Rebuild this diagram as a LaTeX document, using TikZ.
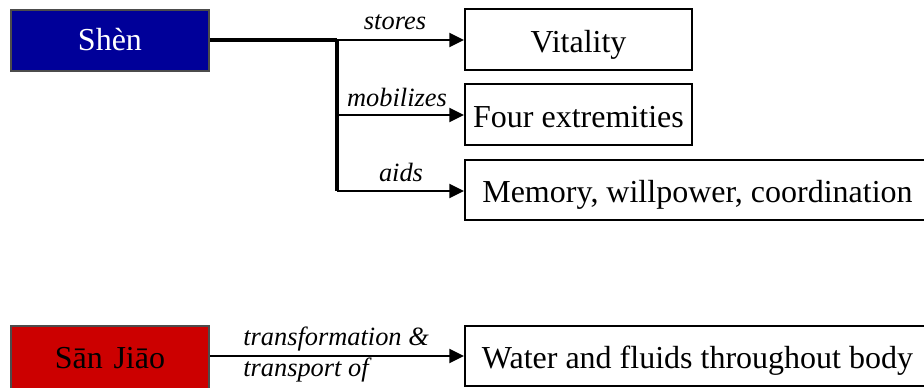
\documentclass[tikz,border=0pt]{standalone}
\usepackage{fontspec}
\setmainfont{Liberation Serif}
\usetikzlibrary{arrows.meta}
\definecolor{shenblue}{RGB}{0,0,153}
\definecolor{sjred}{RGB}{204,0,0}
\tikzset{
  px/.style={x=0.75pt,y=-0.75pt},
  box/.style={draw=black,line width=1.5pt,inner sep=0pt,text height=19pt,text depth=0pt,font=\fontsize{24}{27}\selectfont},
  organ/.style={box,draw=black!70,text height=15pt,text width=148.5pt,align=center,minimum width=148.5pt,minimum height=45.75pt},
  conn/.style={line width=1.6pt,-{Triangle[length=11pt,width=10.5pt]}},
  trunk/.style={line width=2.3pt},
  lbl/.style={font=\fontsize{19.8}{23}\selectfont\itshape,inner sep=0pt}
}
\begin{document}
\begin{tikzpicture}[px]
\useasboundingbox (0,0) rectangle (924,387);
\clip (0,0) rectangle (924,387);
\node[organ,fill=shenblue,text=white] (shen) at (110,40) {Shèn};
\node[box,minimum width=170.25pt,minimum height=45.75pt] (vit) at (578.5,39.5) {Vitality};
\node[box,minimum width=170.25pt,minimum height=45.75pt] (four) at (578.5,114.5) {Four extremities};
\node[box,minimum width=348.75pt,minimum height=45pt] (mem) at (697.5,190) {Memory, willpower, coordination};
\node[organ,fill=sjred,text=black,minimum height=48pt] (sj) at (110,358) {Sān Jiāo};
\node[box,minimum width=348.75pt,minimum height=45pt,text height=18pt] (water) at (697.5,356) {Water and fluids throughout body};
\coordinate (j1) at (337,40);
\coordinate (j2) at (337,115);
\coordinate (j3) at (337,191);
\draw[trunk] (shen.east |- j1) -- (j1);
\draw[trunk] (j1) -- (j3);
\draw[conn] (j1) -- (vit.west |- j1);
\draw[conn] (j2) -- (four.west |- j2);
\draw[conn] (j3) -- (mem.west |- j3);
\draw[conn] (sj.east |- 0,356) -- (water.west |- 0,356);
\node[lbl] (l1) at (395,22) {stores};
\node[lbl] (l2) at (397,97) {mobilizes};
\node[lbl] (l3) at (401,172) {aids};
\node[lbl,anchor=west] (l4) at (243,339) {transformation \&};
\node[lbl,anchor=west] (l5) at (243,370) {transport of};
\end{tikzpicture}
\end{document}
